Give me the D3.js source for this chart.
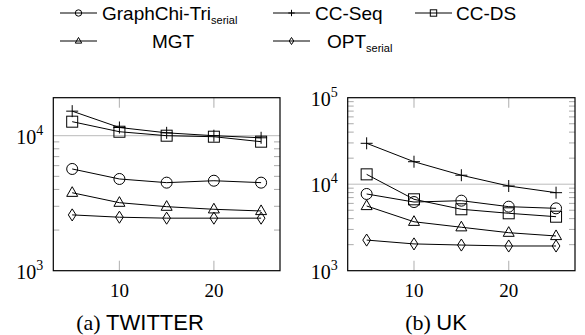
<!DOCTYPE html>
<html>
<head>
<meta charset="utf-8">
<script src="https://cdn.jsdelivr.net/npm/d3@7"></script>
<style>
  body { margin: 0; background: #fff; }
  svg { display: block; }
</style>
</head>
<body>
<div id="chart"></div>
<script>
// x values (shared)
const xValues = [5, 10, 15, 20, 25];
const xTicks = [10, 20];

// TWITTER
const graphchiTwitter = [5670, 4780, 4490, 4640, 4490];
const ccSeqTwitter = [15200, 11500, 10500, 10000, 9650];
const ccDsTwitter = [12700, 10700, 10000, 9830, 9030];
const mgtTwitter = [3780, 3190, 2980, 2850, 2770];
const optTwitter = [2590, 2490, 2450, 2450, 2450];

// UK
const graphchiUk = [7710, 6220, 6450, 5500, 5260];
const ccSeqUk = [29700, 18200, 12700, 9530, 7980];
const ccDsUk = [13000, 6690, 5130, 4610, 4210];
const mgtUk = [5600, 3680, 3180, 2750, 2520];
const optUk = [2260, 2040, 1980, 1930, 1930];

const seriesNames = ['GraphChi-Tri', 'CC-Seq', 'CC-DS', 'MGT', 'OPT'];
const seriesSubs = ['serial', '', '', '', 'serial'];
const seriesMarks = ['circle', 'plus', 'square', 'triangle', 'diamond'];

const serif = '"Liberation Serif", "DejaVu Serif", serif';
const sans = '"Liberation Sans", Arial, sans-serif';

const svg = d3.select('#chart').append('svg')
  .attr('width', 585)
  .attr('height', 335);

// marker drawing
function drawMark(g, type, x, y, s) {
  if (type === 'circle') {
    g.append('circle').attr('cx', x).attr('cy', y).attr('r', s)
      .attr('fill', 'none').attr('stroke', '#000').attr('stroke-width', 1);
  } else if (type === 'square') {
    g.append('rect').attr('x', x - s).attr('y', y - s).attr('width', 2 * s).attr('height', 2 * s)
      .attr('fill', 'none').attr('stroke', '#000').attr('stroke-width', 1);
  } else if (type === 'plus') {
    g.append('path').attr('d', `M${x - s},${y}H${x + s}M${x},${y - s}V${y + s}`)
      .attr('stroke', '#000').attr('stroke-width', 1).attr('fill', 'none');
  } else if (type === 'triangle') {
    const h = s * 1.1;
    g.append('path').attr('d', `M${x},${y - h}L${x + s},${y + h * 0.6}L${x - s},${y + h * 0.6}Z`)
      .attr('fill', 'none').attr('stroke', '#000').attr('stroke-width', 1);
  } else if (type === 'diamond') {
    g.append('path').attr('d', `M${x},${y - s * 1.1}L${x + s * 0.7},${y}L${x},${y + s * 1.1}L${x - s * 0.7},${y}Z`)
      .attr('fill', 'none').attr('stroke', '#000').attr('stroke-width', 1);
  }
}

function drawPanel(opts) {
  const { left, right, top, bottom, yMax, series, caption, captionX, decades } = opts;
  const x = d3.scaleLinear().domain([3, 27]).range([left, right]);
  const y = d3.scaleLog().domain([1000, yMax]).range([bottom, top]);
  const g = svg.append('g');

  // minor y ticks
  const minor = [];
  decades.forEach(d => { for (let k = 2; k <= 9; k++) { if (k * d < yMax) minor.push(k * d); } });
  g.selectAll('.minor-l').data(minor).enter().append('line')
    .attr('x1', left).attr('x2', left + 6)
    .attr('y1', d => y(d)).attr('y2', d => y(d))
    .attr('stroke', '#aaa').attr('stroke-width', 1);
  g.selectAll('.minor-r').data(minor).enter().append('line')
    .attr('x1', right - 6).attr('x2', right)
    .attr('y1', d => y(d)).attr('y2', d => y(d))
    .attr('stroke', '#aaa').attr('stroke-width', 1);

  // grid at 10^4
  g.append('line')
    .attr('x1', left).attr('x2', right)
    .attr('y1', y(10000)).attr('y2', y(10000))
    .attr('stroke', '#bbb').attr('stroke-width', 1);

  // x ticks top & bottom
  xTicks.forEach(t => {
    g.append('line').attr('x1', x(t)).attr('x2', x(t)).attr('y1', bottom).attr('y2', bottom - 10)
      .attr('stroke', '#bbb').attr('stroke-width', 1.2);
    g.append('line').attr('x1', x(t)).attr('x2', x(t)).attr('y1', top).attr('y2', top + 10)
      .attr('stroke', '#bbb').attr('stroke-width', 1.2);
    g.append('text').attr('x', x(t)).attr('y', bottom + 26)
      .attr('text-anchor', 'middle')
      .style('font-family', serif).style('font-size', '19px')
      .text(t);
  });

  // frame
  g.append('rect').attr('x', left).attr('y', top)
    .attr('width', right - left).attr('height', bottom - top)
    .attr('fill', 'none').attr('stroke', '#000').attr('stroke-width', 1.2);

  // y tick labels (powers of ten)
  const ticks = [1000, 10000, 100000].filter(v => v <= yMax * 1.001);
  ticks.forEach(v => {
    const t = g.append('text').attr('x', left - 10).attr('y', y(v) + 8)
      .attr('text-anchor', 'end')
      .style('font-family', serif).style('font-size', '20px');
    t.append('tspan').text('10');
    t.append('tspan').attr('dy', -9).style('font-size', '14px').text(Math.round(Math.log10(v)));
  });

  // series
  const line = d3.line().x(d => x(d[0])).y(d => y(d[1]));
  series.forEach((vals, i) => {
    const pts = xValues.map((xv, j) => [xv, vals[j]]);
    g.append('path').attr('d', line(pts))
      .attr('fill', 'none').attr('stroke', '#000').attr('stroke-width', 1);
    pts.forEach(p => drawMark(g, seriesMarks[i], x(p[0]), y(p[1]), seriesMarks[i] === 'plus' ? 6 : 5.5));
  });

  // caption
  const c = svg.append('text').attr('x', captionX).attr('y', 330)
    .attr('text-anchor', 'middle').style('font-size', '22px');
  c.append('tspan').style('font-family', serif).text(caption[0] + ' ');
  c.append('tspan').style('font-family', sans).text(caption[1]);
}

drawPanel({
  left: 53.3, right: 280, top: 97.7, bottom: 270.7, yMax: 19120,
  series: [graphchiTwitter, ccSeqTwitter, ccDsTwitter, mgtTwitter, optTwitter],
  caption: ['(a)', 'TWITTER'], captionX: 140, decades: [1000]
});
drawPanel({
  left: 347.7, right: 575, top: 97.7, bottom: 270.7, yMax: 100000,
  series: [graphchiUk, ccSeqUk, ccDsUk, mgtUk, optUk],
  caption: ['(b)', 'UK'], captionX: 436, decades: [1000, 10000]
});

// legend
const legendCells = [
  { lx: 60, tx: 102, ty: 20, anchor: 'start' },
  { lx: 273, tx: 315, ty: 20, anchor: 'start' },
  { lx: 415, tx: 456, ty: 20, anchor: 'start' },
  { lx: 60, tx: 173, ty: 48, anchor: 'middle' },
  { lx: 273, tx: 327, ty: 48, anchor: 'start' }
];
const legend = svg.append('g');
seriesNames.forEach((name, i) => {
  const cell = legendCells[i];
  const ly = cell.ty - 7;
  legend.append('line').attr('x1', cell.lx).attr('x2', cell.lx + 37)
    .attr('y1', ly).attr('y2', ly).attr('stroke', '#000').attr('stroke-width', 1);
  drawMark(legend, seriesMarks[i], cell.lx + 18.5, ly, 3.2);
  const t = legend.append('text').attr('x', cell.tx).attr('y', cell.ty)
    .attr('text-anchor', cell.anchor)
    .style('font-family', sans).style('font-size', '19px');
  t.append('tspan').text(name);
  if (seriesSubs[i]) {
    t.append('tspan').attr('dy', 4).style('font-size', '11px').text(seriesSubs[i]);
  }
});
</script>
</body>
</html>
